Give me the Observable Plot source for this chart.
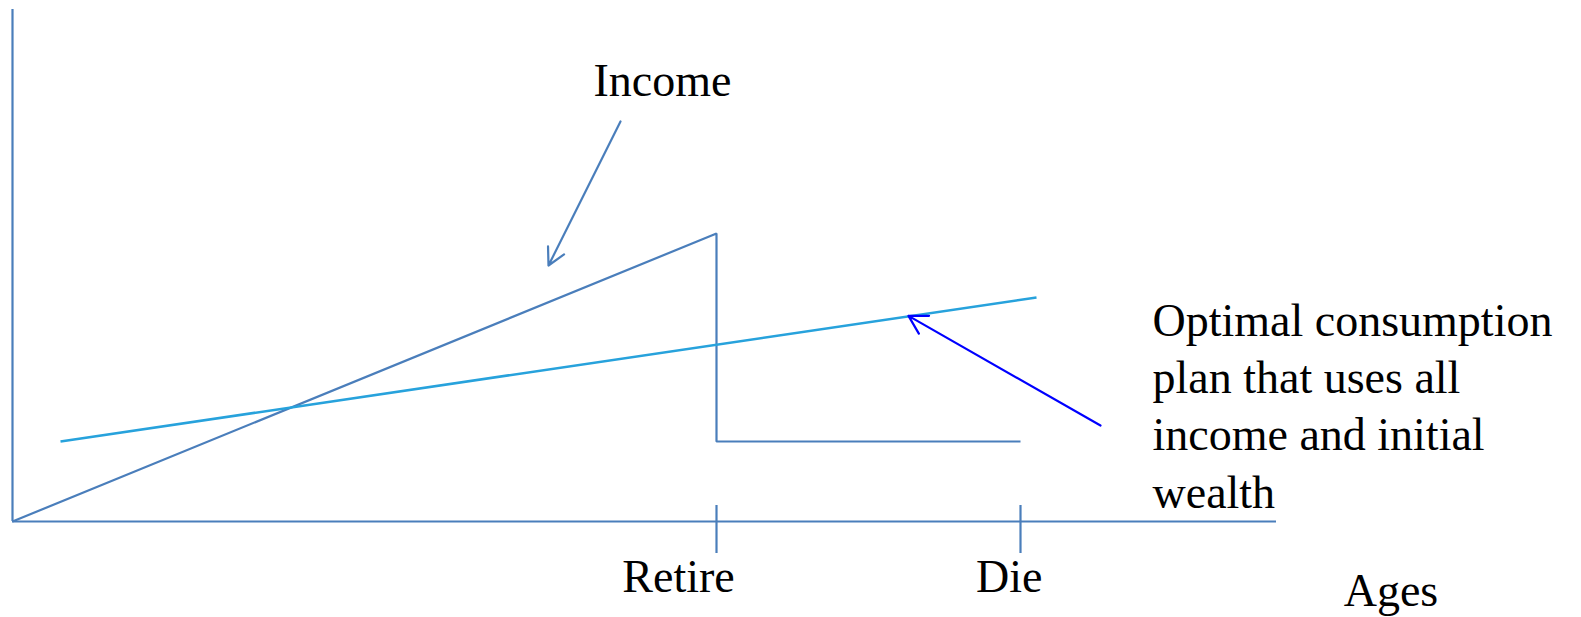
<!DOCTYPE html>
<html>
<head>
<meta charset="utf-8">
<script src="https://cdn.jsdelivr.net/npm/d3@7"></script>
<script src="https://cdn.jsdelivr.net/npm/@observablehq/plot@0.6"></script>
<style>
  html, body { margin: 0; padding: 0; background: #ffffff; }
  svg { display: block; overflow: visible; }
</style>
</head>
<body>
<script>
// Abstract diagram units (x = age axis, y = amount)
const axisXExtent = [0, 158];
const axisYExtent = [0, 64];

const tickAges = [88, 126];
const tickLabels = ["Retire", "Die"];
const tickLabelX = [83.25, 124.6];

const incomeX = [0, 88, 88, 126];
const incomeY = [0, 36, 10, 10];

const consumptionX = [6, 128];
const consumptionY = [10, 28];

const incomeArrowX = [76, 67];
const incomeArrowY = [50, 32];

const consumptionArrowX = [136, 112];
const consumptionArrowY = [12, 25.7];

const centeredLabels = ["Income"];
const centeredLabelX = [81.25];
const centeredLabelY = [53.2];

const leftLabels = ["Optimal consumption\nplan that uses all\nincome and initial\nwealth", "Ages"];
const leftLabelX = [142.5, 166.4];
const leftLabelY = [1.75, -10.5];

const axisColor = "#4a7ebb";
const consumptionColor = "#27a2dc";
const arrowBlue = "#0000ff";
const font = "'Liberation Serif', 'DejaVu Serif', serif";

const income = incomeX.map((x, i) => ({x, y: incomeY[i]}));
const consumption = consumptionX.map((x, i) => ({x, y: consumptionY[i]}));
const ticks = tickAges.map((a, i) => ({a, label: tickLabels[i], lx: tickLabelX[i]}));
const cLabels = centeredLabels.map((t, i) => ({t, x: centeredLabelX[i], y: centeredLabelY[i]}));
const lLabels = leftLabels.map((t, i) => ({t, x: leftLabelX[i], y: leftLabelY[i]}));

const chart = Plot.plot({
  width: 1581,
  height: 617,
  marginLeft: 12,
  marginRight: 305,
  marginTop: 9,
  marginBottom: 96,
  x: {domain: axisXExtent, axis: null},
  y: {domain: axisYExtent, axis: null},
  style: {background: "#ffffff", overflow: "visible"},
  marks: [
    // axes
    Plot.ruleX([axisXExtent[0]], {y1: axisYExtent[0], y2: axisYExtent[1], stroke: axisColor, strokeWidth: 2.2}),
    Plot.ruleY([axisYExtent[0]], {x1: axisXExtent[0], x2: axisXExtent[1], stroke: axisColor, strokeWidth: 2.2}),
    Plot.ruleX(ticks, {x: "a", y1: -4, y2: 2, stroke: axisColor, strokeWidth: 2.2}),
    // income
    Plot.line(income, {x: "x", y: "y", stroke: axisColor, strokeWidth: 2.2, strokeLinejoin: "miter", strokeLinecap: "butt"}),
    // consumption
    Plot.line(consumption, {x: "x", y: "y", stroke: consumptionColor, strokeWidth: 2.6, strokeLinecap: "butt"}),
    // arrows
    Plot.arrow([0], {x1: () => incomeArrowX[0], y1: () => incomeArrowY[0], x2: () => incomeArrowX[1], y2: () => incomeArrowY[1],
      stroke: axisColor, strokeWidth: 2.2, headLength: 13, headAngle: 56}),
    Plot.arrow([0], {x1: () => consumptionArrowX[0], y1: () => consumptionArrowY[0], x2: () => consumptionArrowX[1], y2: () => consumptionArrowY[1],
      stroke: arrowBlue, strokeWidth: 2.2, headLength: 14, headAngle: 60}),
    // tick labels
    Plot.text(ticks, {x: "lx", y: -8.75, text: "label", textAnchor: "middle", lineAnchor: "bottom",
      fontSize: 46, fontFamily: font, fill: "#000"}),
    // annotations
    Plot.text(cLabels, {x: "x", y: "y", text: "t", textAnchor: "middle", lineAnchor: "bottom",
      fontSize: 46, fontFamily: font, fill: "#000"}),
    Plot.text(lLabels, {x: "x", y: "y", text: "t", textAnchor: "start", lineAnchor: "bottom", lineHeight: 1.24,
      fontSize: 46, fontFamily: font, fill: "#000"})
  ]
});
document.body.appendChild(chart);
</script>
</body>
</html>
